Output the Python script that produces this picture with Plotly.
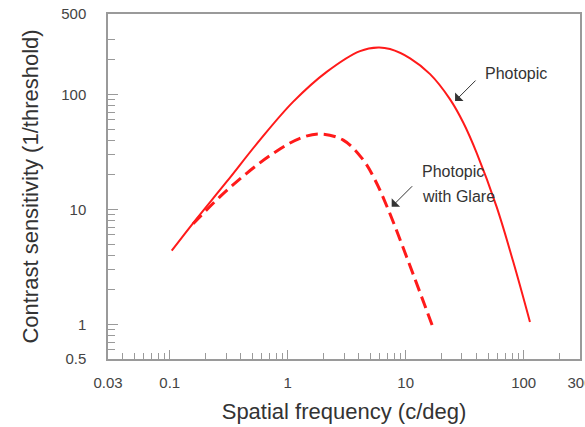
import math
import plotly.graph_objects as go

# ---- data ----
photopic_x = [0.104, 0.158, 0.304, 0.58, 1.11, 2.14, 4.1, 5.86, 7.36, 10.9, 16.1, 23.7, 30.8, 40, 59, 81.7, 113]
photopic_y = [4.37, 7.6, 17.4, 40, 86, 157, 238, 256, 248, 206, 150, 91, 56.7, 30.9, 10.5, 3.48, 1.05]

glare_x = [0.158, 0.267, 0.449, 0.755, 1.27, 1.88, 2.96, 4.37, 5.5, 7.12, 10.5, 16.9]
glare_y = [7.5, 12.9, 20.6, 30.7, 41.5, 45.3, 40, 26.9, 18.0, 9.94, 3.55, 0.96]

x_major = [0.03, 0.1, 1, 10, 100, 300]
x_major_text = ["0.03", "0.1", "1", "10", "100", "300"]
x_minor = [0.04, 0.05, 0.06, 0.07, 0.08, 0.09,
           0.2, 0.3, 0.4, 0.5, 0.6, 0.7, 0.8, 0.9,
           2, 3, 4, 5, 6, 7, 8, 9,
           20, 30, 40, 50, 60, 70, 80, 90, 200]
y_major = [0.5, 1, 10, 100, 500]
y_major_text = ["0.5", "1", "10", "100", "500"]
y_minor = [0.6, 0.7, 0.8, 0.9, 2, 3, 4, 5, 6, 7, 8, 9,
           20, 30, 40, 50, 60, 70, 80, 90, 200, 300]

x_range = [0.03, 300]
y_range = [0.5, 500]

FONT = "Liberation Sans, Arial, sans-serif"
TXT = "#333333"
AX = "#9a9a9a"
RED = "#ff1a1a"
EPS = 1e-4

L = lambda v: math.log10(v)

fig = go.Figure()
fig.add_trace(go.Scatter(x=photopic_x, y=photopic_y, mode="lines",
                         line=dict(color=RED, width=2, shape="spline"),
                         showlegend=False, hoverinfo="skip"))
fig.add_trace(go.Scatter(x=glare_x, y=glare_y, mode="lines",
                         line=dict(color=RED, width=3, shape="spline", dash="12px,6px"),
                         showlegend=False, hoverinfo="skip"))

common = dict(type="log", showgrid=False, zeroline=False, automargin=False)
fig.update_layout(
    width=585, height=427,
    margin=dict(l=108, r=5, t=14, b=68),
    paper_bgcolor="white", plot_bgcolor="white",
    font=dict(family=FONT, color=TXT, size=15),
    xaxis=dict(**common, range=[L(x_range[0]) - EPS, L(x_range[1]) + EPS],
               tickmode="array", tickvals=x_major, ticktext=x_major_text,
               ticks="inside", ticklen=9, tickwidth=1, tickcolor=AX,
               minor=dict(tickmode="array", tickvals=x_minor, ticks="inside",
                          ticklen=6, tickwidth=1, tickcolor=AX, showgrid=False),
               showline=True, linecolor=AX, linewidth=1.5, mirror=True,
               ticklabelstandoff=9, ticklabeloverflow="allow",
               tickfont=dict(size=15, color="#444444"),
               title=dict(text="Spatial frequency (c/deg)", font=dict(size=22, color=TXT), standoff=14)),
    yaxis=dict(**common, range=[L(y_range[0]) - EPS, L(y_range[1]) + EPS],
               tickmode="array", tickvals=y_major, ticktext=y_major_text,
               ticks="inside", ticklen=10, tickwidth=1, tickcolor=AX,
               minor=dict(tickmode="array", tickvals=y_minor, ticks="inside",
                          ticklen=7, tickwidth=1, tickcolor=AX, showgrid=False),
               showline=True, linecolor=AX, linewidth=1.5, mirror=True,
               ticklabelstandoff=17, ticklabeloverflow="allow",
               tickfont=dict(size=15, color="#444444"),
               title=dict(text="Contrast sensitivity (1/threshold)", font=dict(size=22, color=TXT), standoff=17)),
)

# arrows
fig.add_annotation(x=L(26.2), y=L(87.5), xref="x", yref="y", text="",
                   showarrow=True, ax=22, ay=-22, arrowhead=1, arrowsize=2,
                   arrowwidth=1, arrowcolor="#333333")
fig.add_annotation(x=0.881, y=1.023, xref="x", yref="y", text="",
                   showarrow=True, ax=22, ay=-22, arrowhead=1, arrowsize=2,
                   arrowwidth=1, arrowcolor="#333333")
# labels
fig.add_annotation(x=1.652, y=2.183, xref="x", yref="y", text="Photopic",
                   showarrow=False, xanchor="left", yanchor="middle",
                   font=dict(size=16, color=TXT, family=FONT))
fig.add_annotation(x=1.121, y=1.328, xref="x", yref="y", text="Photopic",
                   showarrow=False, xanchor="left", yanchor="middle",
                   font=dict(size=16, color=TXT, family=FONT))
fig.add_annotation(x=1.121, y=1.110, xref="x", yref="y", text="with Glare",
                   showarrow=False, xanchor="left", yanchor="middle",
                   font=dict(size=16, color=TXT, family=FONT))

fig.write_html("out.html",
               config={"displayModeBar": False},
               post_script="document.body.style.margin='0';document.body.style.overflow='hidden';")
